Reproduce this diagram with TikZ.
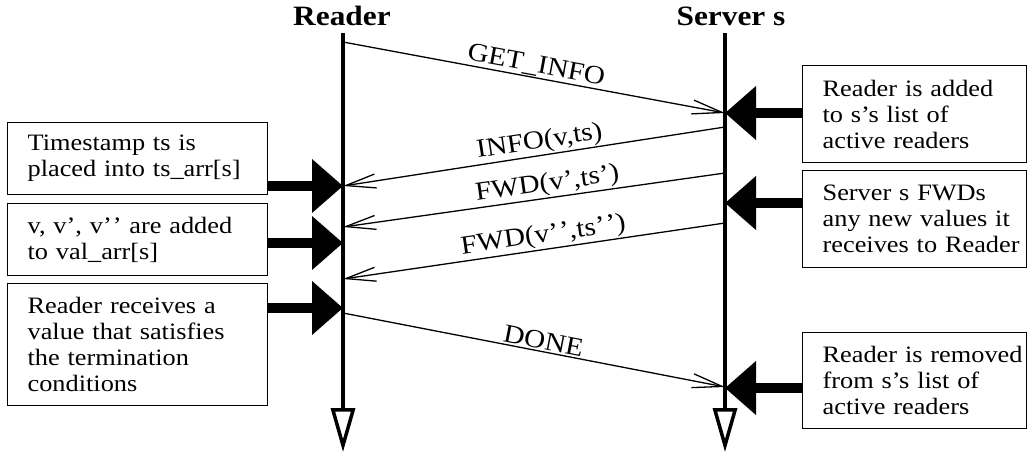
\documentclass[tikz,border=0pt]{standalone}
\usepackage{fontspec}
\setmainfont{Liberation Serif}[FakeStretch=1.12]
\usetikzlibrary{arrows.meta}
\newcommand\boxfont{\fontsize{23.5}{26}\selectfont}
\newcommand\msgfont{\fontsize{26}{28}\selectfont}
\newcommand\headfont{\fontsize{28}{30}\selectfont\bfseries}
\begin{document}
\begin{tikzpicture}[x=1pt,y=-1pt,
  note/.style={draw, line width=1.3pt, anchor=north west, align=left,
    font=\boxfont, inner xsep=2pt, inner ysep=0pt,
    execute at begin node={\leftskip=18pt\hyphenpenalty=10000\exhyphenpenalty=10000}},
  leftnote/.style={note, text width=256pt, minimum height=#1},
  rightnote/.style={note, text width=220pt, minimum height=#1},
  lifeline/.style={line width=3.5pt, -{Triangle[open, length=44pt, width=24pt]}},
  msg/.style={line width=1.3pt, -{Straight Barb[length=30pt, width=14pt]}},
  msglabel/.style={sloped, above, inner sep=1pt, font=\msgfont},
  event/.style={line width=10pt, -{Triangle[length=31pt, width=52pt]}},
  head/.style={font=\headfont, anchor=base},
]
\useasboundingbox (0,0) rectangle (1028,455);

% participants
\node[head] (reader) at (342,25) {Reader};
\node[head] (server) at (731,25) {Server s};

\coordinate (rtop) at (343,33);
\coordinate (rbot) at (343,452);
\coordinate (stop) at (725,33);
\coordinate (sbot) at (725,452);
\draw[lifeline] (rtop) -- (rbot);
\draw[lifeline] (stop) -- (sbot);

% message end points on the lifelines
\coordinate (getR)  at (343,42);
\coordinate (getS)  at (725,113);
\coordinate (infoS) at (725,127);
\coordinate (infoR) at (343,186);
\coordinate (fwdS)  at (725,173);
\coordinate (fwdR)  at (343,227);
\coordinate (fwdbS) at (725,223);
\coordinate (fwdbR) at (343,279);
\coordinate (doneR) at (343,313);
\coordinate (doneS) at (725,387);

% messages
\draw[msg] (getR) -- node[msglabel] {GET\_INFO} (getS);
\draw[msg] (infoS) -- node[msglabel, pos=0.48] {INFO(v,ts)} (infoR);
\draw[msg] (fwdS) -- node[msglabel, pos=0.46] {FWD(v’,ts’)} (fwdR);
\draw[msg] (fwdbS) -- node[msglabel, pos=0.47] {FWD(v’\kern1pt’,ts’\kern1pt’)} (fwdbR);
\draw[msg] (doneR) -- node[msglabel, pos=0.52] {DONE} (doneS);

% reader-side events
\node[leftnote=72pt] (ts) at (7,122) {Timestamp ts is\\placed into ts\_arr[s]};
\node[leftnote=72pt] (val) at (7,203) {v, v’, v’\kern1pt’ are added\\to val\_arr[s]};
\node[leftnote=122pt] (term) at (7,283) {Reader receives a\\value that satisfies\\the termination\\conditions};

\coordinate (evTs)   at (343,186);
\coordinate (evVal)  at (343,243);
\coordinate (evTerm) at (343,308);
\draw[event] (ts.east |- evTs) -- (evTs);
\draw[event] (val.east |- evVal) -- (evVal);
\draw[event] (term.east |- evTerm) -- (evTerm);

% server-side events
\node[rightnote=97pt] (added) at (802,65) {Reader is added\\to s’s list of\\active readers};
\node[rightnote=97pt] (fwds) at (802,170) {Server s FWDs\\any new values it\\receives to Reader};
\node[rightnote=96pt] (removed) at (802,332) {Reader is removed\\from s’s list of\\active readers};

\coordinate (evAdd) at (725,113);
\coordinate (evFwd) at (725,203);
\coordinate (evRem) at (725,388);
\draw[event] (added.west |- evAdd) -- (evAdd);
\draw[event] (fwds.west |- evFwd) -- (evFwd);
\draw[event] (removed.west |- evRem) -- (evRem);
\end{tikzpicture}
\end{document}
